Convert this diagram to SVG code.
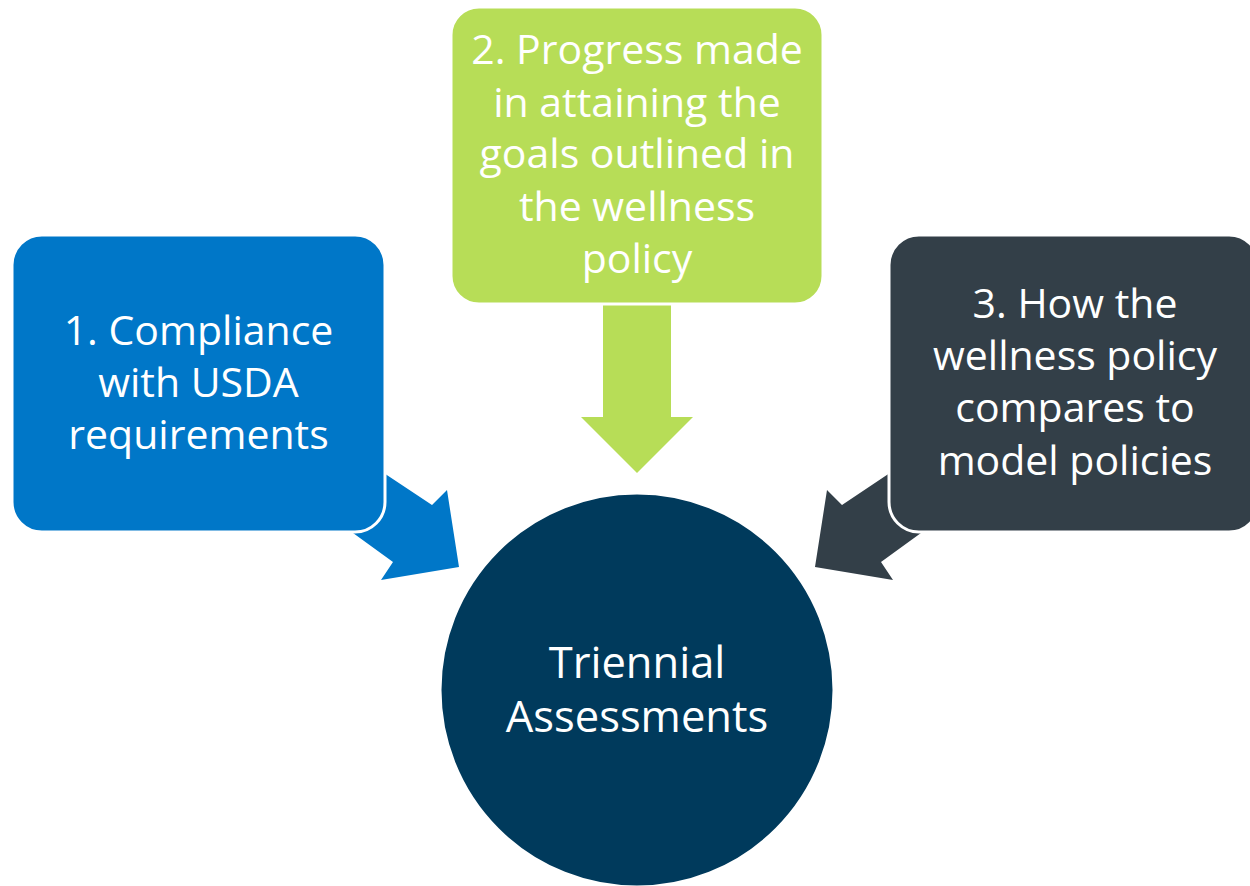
<svg xmlns="http://www.w3.org/2000/svg" width="1250" height="886" viewBox="0 0 1250 886">
  <style>
    .lbl { font-family: "Open Sans", "Noto Sans", sans-serif; font-size: 41px; fill: #ffffff; text-anchor: middle; }
    .big { font-size: 43.5px; }
    .box { stroke: #ffffff; stroke-width: 3; }
  </style>
  <rect width="1250" height="886" fill="#ffffff"/>

  <!-- connectors: block arrows drawn beneath the boxes -->
  <g id="connectors">
    <polygon id="arrow-1" fill="#0077C8" points="310,424 432,505 447,490 459,567 381,580 393,562 280,480"/>
    <polygon id="arrow-2" fill="#B7DD57" points="603,300 671,300 671,417 693,417 637,473 581,417 603,417"/>
    <polygon id="arrow-3" fill="#333F48" points="963,424 842,505 827,490 815,567 893,580 881,562 994,480"/>
  </g>

  <g id="node-compliance">
    <rect class="box" x="12" y="235" width="373" height="297" rx="30" fill="#0077C8"/>
    <text class="lbl" x="198.5" y="345">1. Compliance</text>
    <text class="lbl" x="198.5" y="397">with USDA</text>
    <text class="lbl" x="198.5" y="449">requirements</text>
  </g>

  <g id="node-progress">
    <rect class="box" x="451" y="7" width="372" height="297" rx="28" fill="#B7DD57"/>
    <text class="lbl" x="637" y="64">2. Progress made</text>
    <text class="lbl" x="637" y="117">in attaining the</text>
    <text class="lbl" x="637" y="168">goals outlined in</text>
    <text class="lbl" x="637" y="221">the wellness</text>
    <text class="lbl" x="637" y="273">policy</text>
  </g>

  <g id="node-model">
    <rect class="box" x="889" y="235" width="370" height="297" rx="30" fill="#333F48"/>
    <text class="lbl" x="1075" y="318">3. How the</text>
    <text class="lbl" x="1075" y="370">wellness policy</text>
    <text class="lbl" x="1075" y="422">compares to</text>
    <text class="lbl" x="1075" y="475">model policies</text>
  </g>

  <g id="node-triennial">
    <circle class="box" cx="637" cy="690" r="197" fill="#003A5C"/>
    <text class="lbl big" x="637" y="678">Triennial</text>
    <text class="lbl big" x="637" y="732">Assessments</text>
  </g>
</svg>
